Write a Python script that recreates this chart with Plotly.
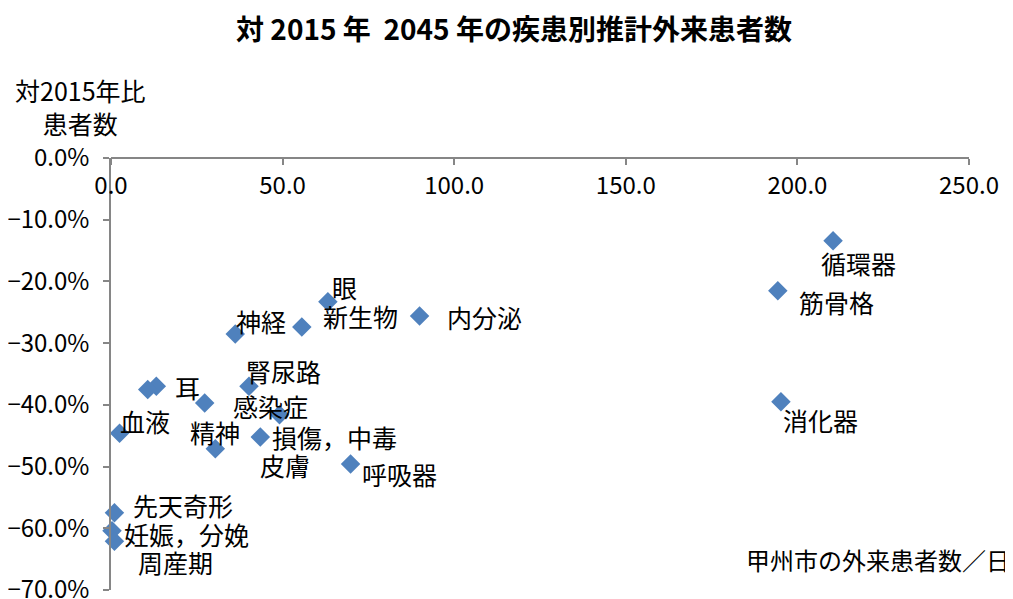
import plotly.graph_objects as go

# ---- data ----
categories = ["循環器", "筋骨格", "消化器", "眼", "新生物", "内分泌", "神経", "耳", "",
              "腎尿路", "感染症", "皮膚", "血液", "損傷，中毒", "精神", "呼吸器",
              "先天奇形", "妊娠，分娩", "周産期"]
patients_per_day = [210.4, 194.3, 195.2, 63.2, 55.6, 89.9, 36.2, 13.2, 10.7,
                    40.2, 27.3, 49.1, 2.5, 43.5, 30.4, 69.8, 1.0, 0.3, 1.0]
ratio_vs_2015 = [-0.134, -0.215, -0.395, -0.233, -0.274, -0.256, -0.285, -0.370, -0.375,
                 -0.370, -0.397, -0.416, -0.446, -0.452, -0.471, -0.496, -0.575, -0.604, -0.621]
x_ticks = [0, 50, 100, 150, 200, 250]
y_ticks = [0, -0.1, -0.2, -0.3, -0.4, -0.5, -0.6, -0.7]

# label offsets in pixels (xshift, yshift) -- placement only
label_shift = {
    "循環器": (25, -22), "筋骨格": (59, -11), "消化器": (40, -18), "眼": (17, 15),
    "新生物": (59, 11), "内分泌": (65, -1), "神経": (26, 13), "耳": (31, -1),
    "腎尿路": (35, 15), "感染症": (66, -3), "皮膚": (5, -50), "血液": (25, 12),
    "損傷，中毒": (74, 0), "精神": (0, 17), "呼吸器": (49, -10),
    "先天奇形": (69, 8), "妊娠，分娩": (74, -3), "周産期": (61, -21),
}

FONT = "Noto Sans CJK JP"
AXIS_COLOR = "#868686"
# the page body has an 8px default margin, so the figure is 8px smaller
OFF = 8
FIG_W, FIG_H = 1013 - OFF, 599 - OFF
PLOT_L, PLOT_R, PLOT_T, PLOT_B = 111 - OFF, 44, 158 - OFF, 9
PW = FIG_W - PLOT_L - PLOT_R
PH = FIG_H - PLOT_T - PLOT_B

fig = go.Figure()
fig.add_trace(go.Scatter(
    x=patients_per_day, y=ratio_vs_2015, mode="markers",
    marker=dict(symbol="diamond", size=15, color="#4F81BD", line=dict(width=0)),
    hovertext=categories, showlegend=False, cliponaxis=False,
))

for name, xv, yv in zip(categories, patients_per_day, ratio_vs_2015):
    if not name:
        continue
    dx, dy = label_shift[name]
    fig.add_annotation(x=xv, y=yv, text=name, showarrow=False,
                       xshift=dx, yshift=dy, xanchor="center", yanchor="middle",
                       font=dict(family=FONT, size=25, color="#000000"))

fig.update_layout(
    width=FIG_W, height=FIG_H,
    margin=dict(l=PLOT_L, r=PLOT_R, t=PLOT_T, b=PLOT_B, autoexpand=False),
    paper_bgcolor="white", plot_bgcolor="white",
    font=dict(family=FONT, size=24, color="#000000"),
    title=dict(text="対 2015 年  2045 年の疾患別推計外来患者数",
               x=(514 - OFF) / FIG_W, xref="container",
               y=1 - (30 - OFF) / FIG_H, yref="container", yanchor="middle", xanchor="center",
               font=dict(family=FONT, size=28, color="#000000", weight="bold")),
    xaxis=dict(range=[0, 250], tickvals=x_ticks, tickformat=".1f",
               side="bottom", anchor="free", position=1, automargin=False,
               showline=True, linecolor=AXIS_COLOR, linewidth=1.5,
               ticks="outside", tickcolor=AXIS_COLOR, ticklen=6, tickwidth=1.5,
               showgrid=False, zeroline=False, ticklabeloverflow="allow",
               tickfont=dict(family=FONT, size=24, color="#000000")),
    yaxis=dict(range=[-0.7, 0], tickvals=y_ticks, tickformat=".1%", automargin=False,
               showline=True, linecolor=AXIS_COLOR, linewidth=1.5,
               ticks="outside", tickcolor=AXIS_COLOR, ticklen=6, tickwidth=1.5,
               showgrid=False, zeroline=False, ticklabeloverflow="allow",
               ticklabelstandoff=9,
               tickfont=dict(family=FONT, size=24, color="#000000")),
)

fig.add_annotation(text="対2015年比<br>患者数", xref="paper", yref="paper",
                   x=(80 - 111) / PW, y=1 + (158 - 107) / PH,
                   xanchor="center", yanchor="middle", showarrow=False, align="center",
                   font=dict(family=FONT, size=25, color="#000000"))
fig.add_annotation(text="甲州市の外来患者数／日", xref="paper", yref="paper",
                   x=(1012 - 111) / PW, y=(590 - 559) / PH,
                   xanchor="right", yanchor="middle",
                   showarrow=False, font=dict(family=FONT, size=24, color="#000000"))

fig.write_html("out.html")
